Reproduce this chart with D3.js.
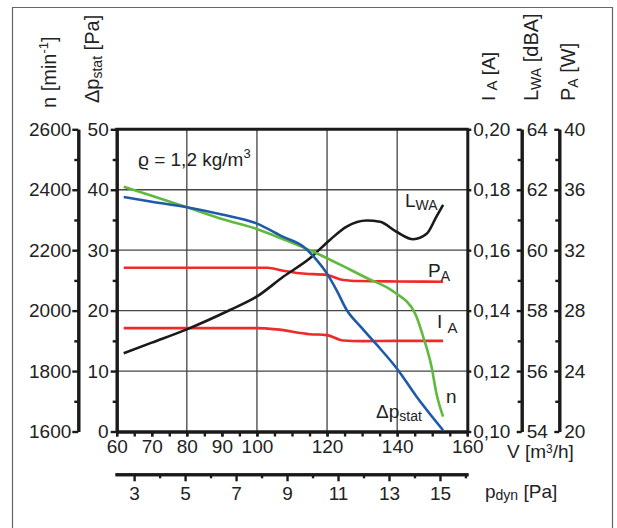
<!DOCTYPE html>
<html>
<head>
<meta charset="utf-8">
<script src="https://cdn.jsdelivr.net/npm/d3@7"></script>
<style>
body { margin: 0; background: #fff; }
svg text { font-family: "Liberation Sans", Arial, sans-serif; }
</style>
</head>
<body>
<svg id="chart" width="617" height="528"></svg>
<script>
// values, [V m3/h, value]
var pstatData = [[62,38.8],[70,38.0],[80,37.1],[90,35.9],[100,34.4],[107.5,32.2],[113.2,30.6],[117,28.4],[119.9,26.2],[122.7,23.4],[125.6,20.1],[129.5,17.4],[134.1,14.4],[139.8,10.5],[145.5,5.8],[153.1,0.2]];
var speedData = [[62,2410],[70,2380],[80,2342],[90,2303],[100,2270],[107.5,2236],[117,2190],[126.5,2136],[131.3,2108],[138.9,2063],[145.1,1991],[147.4,1914],[149.8,1814],[151.2,1726],[153.1,1649]];
var lwaData = [[62,56.59],[70,56.94],[80,57.38],[92.3,58.02],[99.9,58.46],[107.5,59.12],[115.1,59.73],[120.8,60.34],[125.6,60.78],[131.3,60.98],[135.1,60.94],[139.8,60.61],[144.6,60.36],[148.4,60.54],[151.2,61.11],[153.1,61.5]];
var paData = [[62,30.84],[80,30.84],[100,30.84],[103,30.84],[107.5,30.64],[112.3,30.47],[119.9,30.36],[124.6,30.03],[129.4,29.96],[140,29.93],[153.1,29.91]];
var iaData = [[62,0.1342],[80,0.1342],[100,0.1342],[105.6,0.1338],[115.1,0.1322],[119.9,0.1319],[124.6,0.1301],[130,0.1299],[140,0.1300],[153.1,0.1300]];

var vTicks = [60,70,80,90,100,120,140,160];
var nTicks = [1600,1800,2000,2200,2400,2600];
var pTicks = [0,10,20,30,40,50];
var iaTicks = [0.10,0.12,0.14,0.16,0.18,0.20];
var lwaTicks = [54,56,58,60,62,64];
var paTicks = [20,24,28,32,36,40];
var pdynTicks = [3,5,7,9,11,13,15];

var svg = d3.select('#chart');

var plotLeft = 116.7, plotRight = 467.3, plotTop = 129.3, plotBottom = 431.5;

var x = d3.scaleLinear().domain([60,160]).range([plotLeft,plotRight]);
var yP = d3.scaleLinear().domain([0,50]).range([plotBottom,plotTop]);
var yN = d3.scaleLinear().domain([1600,2600]).range([plotBottom,plotTop]);
var yI = d3.scaleLinear().domain([0.10,0.20]).range([plotBottom,plotTop]);
var yL = d3.scaleLinear().domain([54,64]).range([plotBottom,plotTop]);
var yPA = d3.scaleLinear().domain([20,40]).range([plotBottom,plotTop]);
var xPd = d3.scaleLinear().domain([2.25,16.1]).range([115,468]);

var comma = d => d3.format('.2f')(d).replace('.', ',');

// outer frame
svg.append('path')
    .attr('d','M12.5,530 V7.5 H612.5 V530')
    .attr('fill','none').attr('stroke','#666').attr('stroke-width',1.2);

// grid
var grid = svg.append('g').attr('stroke','#444').attr('stroke-width',1.3);
[80,100,120,140].forEach(function(v){
    grid.append('line').attr('x1',x(v)).attr('x2',x(v)).attr('y1',plotTop).attr('y2',plotBottom);
});
[10,20,30,40].forEach(function(v){
    grid.append('line').attr('x1',plotLeft).attr('x2',plotRight).attr('y1',yP(v)).attr('y2',yP(v));
});

function styleAxis(g){
    g.attr('font-size',19).attr('font-family','"Liberation Sans", Arial, sans-serif').style('color','#1a1a1a');
    g.select('.domain').attr('stroke-width',3);
    g.selectAll('.tick line').attr('stroke-width',2.4);
    g.selectAll('.tick text').attr('fill','#222');
}

function addAxis(axis, tx, ty){
    return svg.append('g').attr('transform',`translate(${tx},${ty})`).call(axis).call(styleAxis);
}

// top frame line
svg.append('line').attr('x1',plotLeft-1.5).attr('x2',plotRight+1.5).attr('y1',plotTop).attr('y2',plotTop)
    .attr('stroke','#1a1a1a').attr('stroke-width',3);

// left axes
addAxis(d3.axisLeft(yN).tickValues(d3.range(1700,2600,200)).tickSize(4).tickSizeOuter(0).tickFormat(''), 78.3, 0);
addAxis(d3.axisLeft(yN).tickValues(nTicks).tickSize(6).tickSizeOuter(0).tickPadding(1).tickFormat(d3.format('d')), 78.3, 0);
addAxis(d3.axisLeft(yP).tickValues(d3.range(5,50,10)).tickSize(4).tickSizeOuter(0).tickFormat(''), plotLeft, 0);
addAxis(d3.axisLeft(yP).tickValues(pTicks).tickSize(6).tickSizeOuter(0).tickPadding(2), plotLeft, 0);

// right axes
addAxis(d3.axisRight(yI).tickValues(iaTicks).tickSize(4).tickSizeOuter(0).tickPadding(2).tickFormat(comma), plotRight, 0);
addAxis(d3.axisRight(yL).tickValues(d3.range(55,64,2)).tickSizeInner(-4).tickSizeOuter(0).tickFormat(''), 521.7, 0);
addAxis(d3.axisRight(yL).tickValues(lwaTicks).tickSizeInner(-5).tickSizeOuter(0).tickPadding(5), 521.7, 0);
addAxis(d3.axisRight(yPA).tickValues(d3.range(22,40,4)).tickSizeInner(-4).tickSizeOuter(0).tickFormat(''), 559.3, 0);
addAxis(d3.axisRight(yPA).tickValues(paTicks).tickSizeInner(-5).tickSizeOuter(0).tickPadding(5), 559.3, 0);

// bottom axes
addAxis(d3.axisBottom(x).tickValues(d3.range(60,161,5)).tickSize(5).tickSizeOuter(0).tickFormat(''), 0, plotBottom);
addAxis(d3.axisBottom(x).tickValues(vTicks).tickSize(5).tickSizeOuter(0).tickPadding(3), 0, plotBottom);
addAxis(d3.axisBottom(xPd).tickValues(d3.range(4,17,2)).tickSize(4).tickSizeOuter(0).tickFormat(''), 0, 474.3);
addAxis(d3.axisBottom(xPd).tickValues(pdynTicks).tickSize(7).tickSizeOuter(0).tickPadding(5), 0, 474.3);

// curves
function drawCurve(data, yScale, color){
    var line = d3.line()
        .x(d => x(d[0]))
        .y(d => yScale(d[1]))
        .curve(d3.curveMonotoneX);
    svg.append('path').datum(data)
        .attr('d',line)
        .attr('fill','none')
        .attr('stroke',color)
        .attr('stroke-width',2.6)
        .attr('stroke-linejoin','round');
}
drawCurve(paData, yPA, '#ee2a2a');
drawCurve(iaData, yI, '#ee2a2a');
drawCurve(lwaData, yL, '#1a1a1a');
drawCurve(speedData, yN, '#5fba3c');
drawCurve(pstatData, yP, '#1f5aa8');

// text helper: parts = [[text, size, dy]]
function label(xp, yp, parts, rotate){
    var t = svg.append('text')
        .attr('transform', rotate ? `translate(${xp},${yp}) rotate(-90)` : `translate(${xp},${yp})`)
        .attr('font-size',19)
        .attr('fill','#222');
    parts.forEach(function(p){
        t.append('tspan').attr('font-size',p[1]).attr('dy',p[2]).text(p[0]);
    });
    return t;
}

// axis titles
label(56, 108, [['n [min',20,0],['-1',13,-8],[']',20,8]], true);
label(99, 103, [['Δp',20,0],['stat',14,3],[' [Pa]',20,-3]], true);
label(495, 101, [['I ',19,0],['A',15,2],[' [A]',19,-2]], true);
label(538, 101, [['L',20,0],['WA',14,3],[' [dBA]',20,-3]], true);
label(575, 101, [['P',20,0],['A',14,3],[' [W]',20,-3]], true);

label(507, 458, [['V [m',19,0],['3',12,-5],['/h]',19,5]]);
label(485, 498, [['p',19,0],['dyn',14,2],[' [Pa]',19,-2]]);

// density note
label(138, 166, [['ϱ = 1,2 kg/m',19,0],['3',13,-8]]);

// curve labels
label(405, 206.5, [['L',19,0],['WA',14,3]]);
label(428, 276.5, [['P',19,0],['A',14,4]]);
label(437, 328, [['I ',19,0],['A',15,5]]);
label(446, 403, [['n',19,0]]);
label(376, 418, [['Δp',19,0],['stat',14,3]]);
</script>
</body>
</html>
